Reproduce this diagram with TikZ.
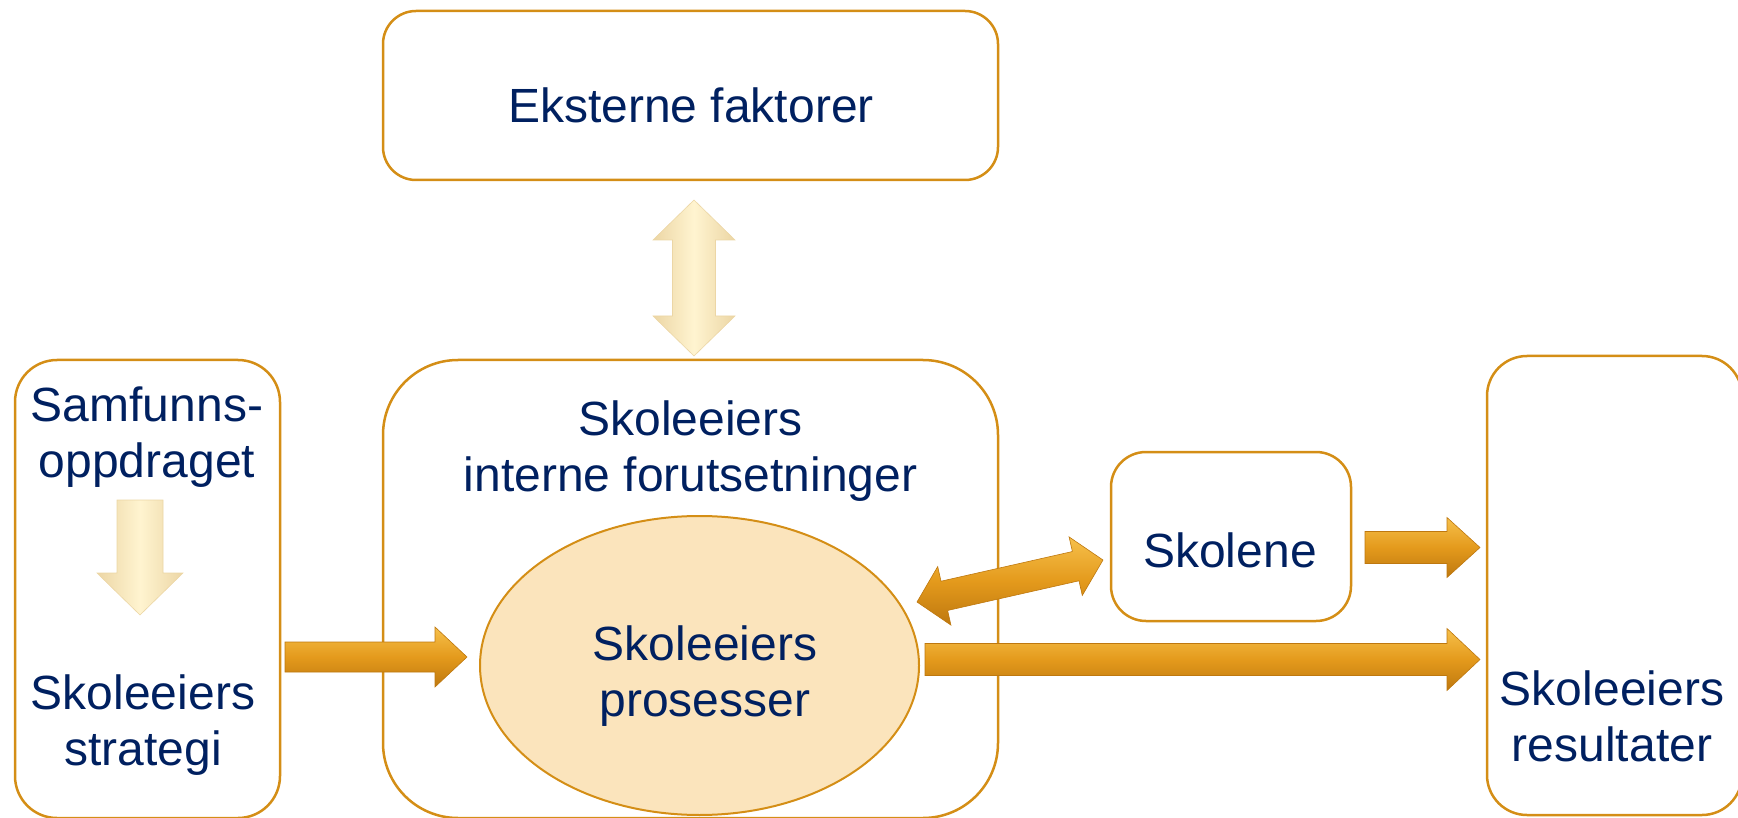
\documentclass[tikz,border=0pt]{standalone}
\usepackage{fontspec}
\setmainfont{Liberation Sans}
\usetikzlibrary{calc,shapes.geometric}
\definecolor{boxline}{RGB}{212,142,22}
\definecolor{navy}{RGB}{0,32,96}
\definecolor{peach}{RGB}{251,228,188}
\definecolor{orlight}{RGB}{246,192,75}
\definecolor{ormid}{RGB}{228,154,28}
\definecolor{ordark}{RGB}{190,120,15}
\definecolor{crlight}{RGB}{255,244,208}
\definecolor{credge}{RGB}{236,214,165}
\newcommand{\blkarrow}[6]{%
  \pgfpointdiff{\pgfpointanchor{#1}{center}}{\pgfpointanchor{#2}{center}}%
  \pgfgetlastxy{\bax}{\bay}%
  \pgfmathsetmacro{\blen}{veclen(\bax,\bay)}%
  \pgfmathsetmacro{\bang}{atan2(\bay,\bax)}%
  \path[#6,shift={(#1)},rotate=\bang] (0pt,#3pt) -- ({\blen pt-#5pt},#3pt) -- ({\blen pt-#5pt},#4pt) -- (\blen pt,0pt) -- ({\blen pt-#5pt},-#4pt) -- ({\blen pt-#5pt},-#3pt) -- (0pt,-#3pt) -- cycle;}
\newcommand{\blkdarrow}[6]{%
  \pgfpointdiff{\pgfpointanchor{#1}{center}}{\pgfpointanchor{#2}{center}}%
  \pgfgetlastxy{\bax}{\bay}%
  \pgfmathsetmacro{\blen}{veclen(\bax,\bay)}%
  \pgfmathsetmacro{\bang}{atan2(\bay,\bax)}%
  \path[#6,shift={(#1)},rotate=\bang] (0pt,0pt) -- (#5pt,#4pt) -- (#5pt,#3pt) -- ({\blen pt-#5pt},#3pt) -- ({\blen pt-#5pt},#4pt) -- (\blen pt,0pt) -- ({\blen pt-#5pt},-#4pt) -- ({\blen pt-#5pt},-#3pt) -- (#5pt,-#3pt) -- (#5pt,-#4pt) -- cycle;}
\begin{document}
\begin{tikzpicture}[x=1pt,y=-1pt,
  boxst/.style={draw=boxline, line width=2.5pt, rectangle, rounded corners=#1, inner sep=0pt},
  lbl/.style={text=navy, font=\fontsize{48}{56}\selectfont, align=center, inner sep=0pt, anchor=base},
  orarrow/.style={draw=ordark, line width=0.6pt, top color=orlight, bottom color=ordark, middle color=ormid},
  crarrow/.style={draw=credge, line width=0.6pt, left color=credge, right color=credge, middle color=crlight}]
\useasboundingbox (0,0) rectangle (1738,818);
% boxes
\node[boxst=33pt, minimum width=615pt, minimum height=169pt] (ext) at (690.5,95.5) {};
\node[boxst=42pt, minimum width=265pt, minimum height=458pt] (left) at (147.5,589) {};
\node[boxst=75pt, minimum width=615pt, minimum height=458pt] (mid) at (690.5,589) {};
\node[boxst=35pt, minimum width=240pt, minimum height=169pt] (skol) at (1231,536.5) {};
\node[boxst=40pt, minimum width=255pt, minimum height=459pt] (res) at (1614.5,585.5) {};
\node[ellipse, draw=boxline, line width=2pt, fill=peach, minimum width=439pt, minimum height=299pt, inner sep=0pt] (proc) at (699.5,665.5) {};
% texts (anchor = baseline of the last line)
\node[lbl] (tExt) at (691,123) {Eksterne faktorer};
\node[lbl] (tSam) at (147,477) {Samfunns-\\oppdraget};
\node[lbl] (tStr) at (143,765) {Skoleeiers\\strategi};
\node[lbl] (tInt) at (690.5,491) {Skoleeiers\\interne forutsetninger};
\node[lbl] (tProc) at (705,716) {Skoleeiers\\prosesser};
\node[lbl] (tSkol) at (1230,567.5) {Skolene};
\node[lbl] (tRes) at (1612,761) {Skoleeiers\\resultater};
% arrow end points
\coordinate (a1s) at (694,356);
\coordinate (a1e) at (694,200);
\coordinate (a2s) at (140,500);
\coordinate (a2e) at (140,615);
\coordinate (a3s) at (285,657);
\coordinate (a3e) at (467,657);
\coordinate (a4s) at (917,602);
\coordinate (a4e) at (1103,560);
\coordinate (a5s) at (1365,547.5);
\coordinate (a5e) at (1480,547.5);
\coordinate (a6s) at (925,659.5);
\coordinate (a6e) at (1480,659.5);
% arrows
\blkdarrow{a1s}{a1e}{21.5}{41}{40}{crarrow}
\blkarrow{a2s}{a2e}{23}{43}{42}{crarrow}
\blkarrow{a3s}{a3e}{15}{30}{32}{orarrow}
\blkdarrow{a4s}{a4e}{15}{30}{28}{orarrow}
\blkarrow{a5s}{a5e}{16}{30}{33}{orarrow}
\blkarrow{a6s}{a6e}{16}{31}{33}{orarrow}
\end{tikzpicture}
\end{document}
